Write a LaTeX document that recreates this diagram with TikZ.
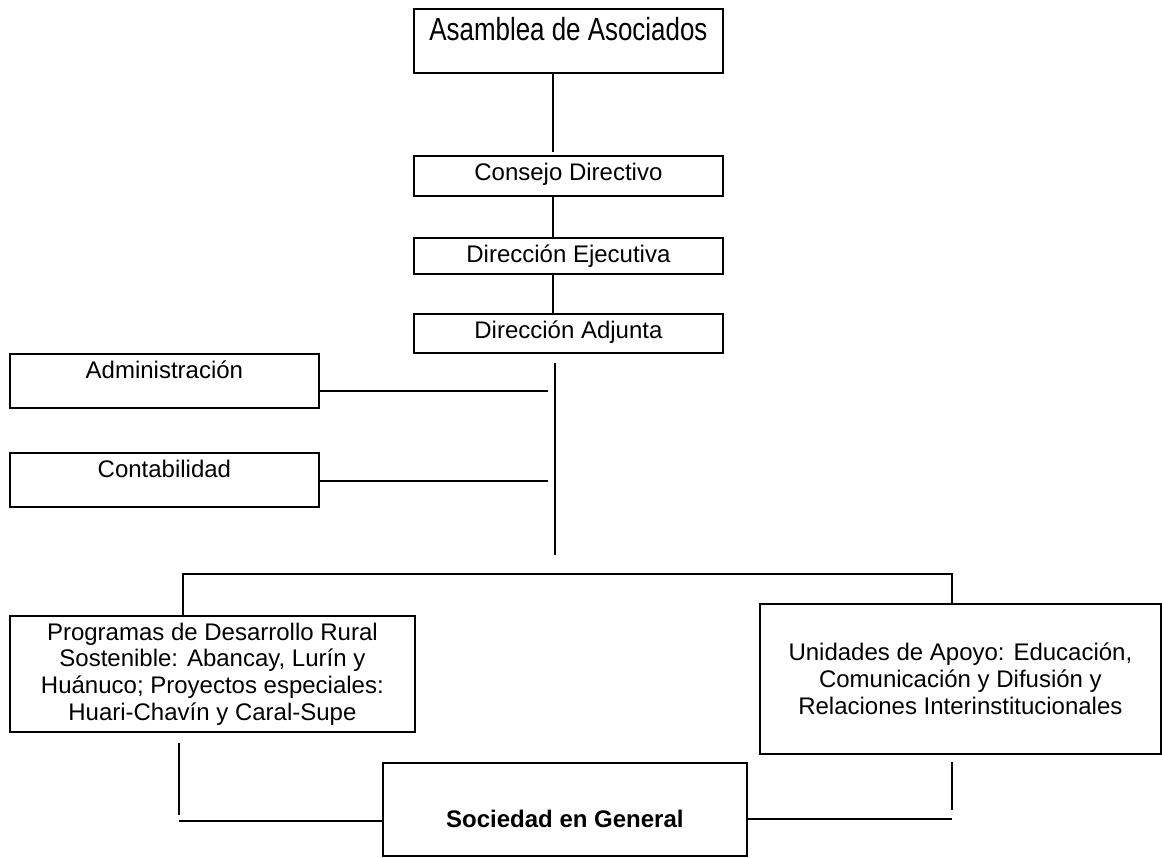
\documentclass[tikz,border=0pt]{standalone}
\usepackage{fontspec}
\setmainfont{Liberation Sans}
\newfontfamily\narrowfont[FakeStretch=0.81]{Liberation Sans}
\usetikzlibrary{positioning}

\tikzset{
  orgbox/.style={draw, line width=1.8pt, inner sep=0pt, anchor=north west,
    font=\fontsize{24}{26.7}\selectfont},
  orgline/.style={line width=1.8pt},
}

\begin{document}
\begin{tikzpicture}[x=1pt,y=-1pt]
\useasboundingbox (0,0) rectangle (1162,858);
% cadena de direccion
\node[orgbox, minimum width=309pt, text height=32pt, text depth=32pt,
  font=\narrowfont\fontsize{32}{36}\selectfont] (asam) at (413,8) {Asamblea de Asociados};
\node[orgbox, minimum width=309pt, text height=25pt, text depth=15pt] (cons) at (413,155) {Consejo Directivo};
\node[orgbox, minimum width=309pt, text height=25pt, text depth=11pt] (ejec) at (413,237) {Dirección Ejecutiva};
\node[orgbox, minimum width=309pt, text height=25pt, text depth=14pt] (adju) at (413,313) {Dirección Adjunta};
% apoyo administrativo
\node[orgbox, minimum width=309pt, text height=25pt, text depth=29pt] (admi) at (9,353) {Administración};
\node[orgbox, minimum width=309pt, text height=25pt, text depth=29pt] (cont) at (9,452) {Contabilidad};
% programas y unidades
\node[orgbox, minimum width=405pt, minimum height=116pt, align=center] (prog) at (9,615)
  {Programas de Desarrollo Rural\\Sostenible: Abancay, Lurín y\\Huánuco; Proyectos especiales:\\Huari-Chavín y Caral-Supe};
\node[orgbox, minimum width=401pt, minimum height=150pt, align=center] (unid) at (759,603)
  {Unidades de Apoyo: Educación,\\Comunicación y Difusión y\\Relaciones Interinstitucionales};
\node[orgbox, minimum width=364pt, text height=65pt, text depth=28pt,
  font=\bfseries\fontsize{24}{26.7}\selectfont] (soci) at (382,762) {Sociedad en General};

% puntos libres
\coordinate (stem) at (553,0);
\coordinate (sp1) at (555,363);
\coordinate (sp2) at (555,555);
\coordinate (admR) at (548,391);
\coordinate (conR) at (548,481);
\coordinate (busL) at (183,574);
\coordinate (busR) at (952,574);
\coordinate (pl1) at (179,743);
\coordinate (pl2) at (179,815);
\coordinate (pl3) at (179,821);
\coordinate (pr1) at (952,762);
\coordinate (pr2) at (952,810);
\coordinate (pr3) at (952,819);

\path[orgline]
(asam.south -| stem) edge ([yshift=3pt]cons.north -| stem)
(cons.south -| stem) edge (ejec.north -| stem)
(ejec.south -| stem) edge (adju.north -| stem)
(sp1) edge (sp2)
(admi.east |- admR) edge (admR)
(cont.east |- conR) edge (conR)
(pl1) edge (pl2)
(pl3) edge (soci.west |- pl3)
(pr1) edge (pr2)
(soci.east |- pr3) edge (pr3);
\draw[orgline] (prog.north -| busL) -- (busL) -- (busR) -- (unid.north -| busR);
\end{tikzpicture}
\end{document}
